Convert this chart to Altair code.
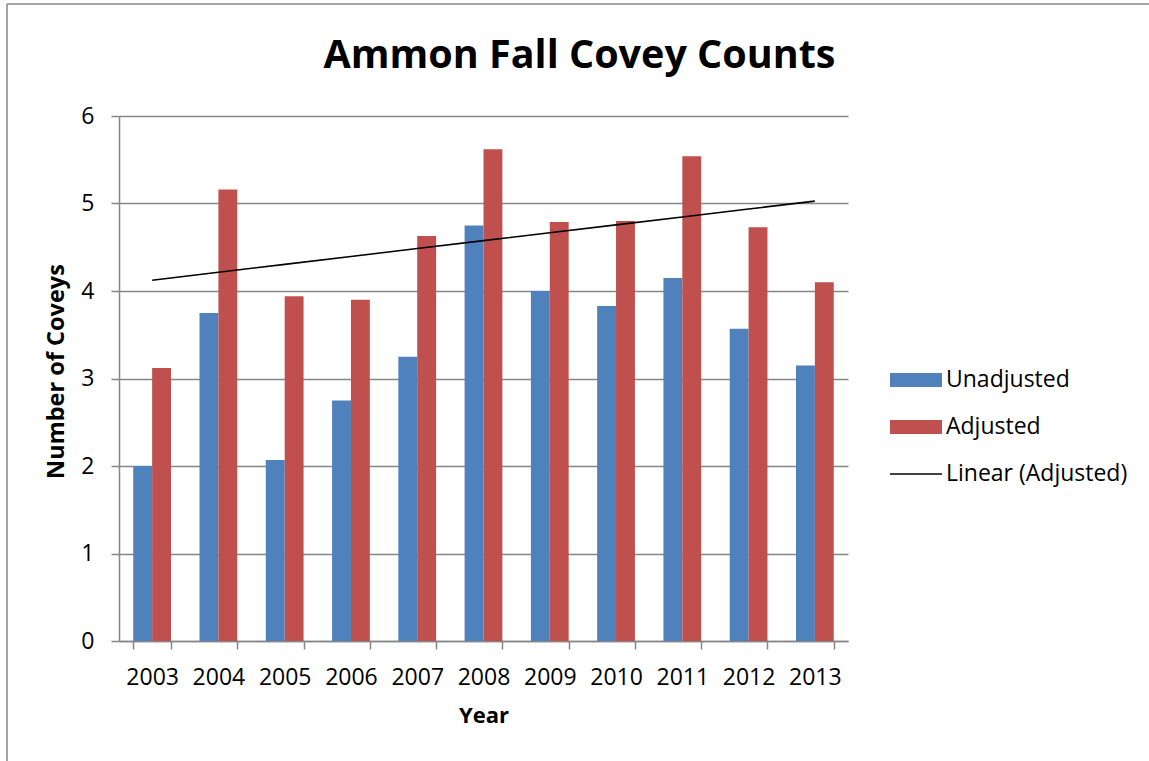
import altair as alt
import numpy as np
import pandas as pd

# Survey results by year
years = ["2003", "2004", "2005", "2006", "2007", "2008",
         "2009", "2010", "2011", "2012", "2013"]
unadjusted = [2.00, 3.75, 2.07, 2.75, 3.25, 4.75, 4.00, 3.83, 4.15, 3.57, 3.15]
adjusted = [3.12, 5.16, 3.94, 3.90, 4.63, 5.62, 4.79, 4.80, 5.54, 4.73, 4.10]

series_names = ["Unadjusted", "Adjusted", "Linear (Adjusted)"]
series_colors = ["#4F81BD", "#C0504D", "#000000"]
# legend glyphs: two wide swatches and a thin line
series_glyphs = ["M-1,-0.27H1V0.27H-1Z", "M-1,-0.27H1V0.27H-1Z", "M-1,-0.03H1V0.03H-1Z"]

FONT = "Open Sans"
GRID = "#868686"

bars = pd.DataFrame({
    "Year": years * 2,
    "Series": ["Unadjusted"] * len(years) + ["Adjusted"] * len(years),
    "Coveys": unadjusted + adjusted,
})

# least-squares trend of the adjusted counts
slope, intercept = np.polyfit(np.arange(len(years)), adjusted, 1)
trend = pd.DataFrame({
    "Year": years,
    "Series": "Linear (Adjusted)",
    "Coveys": intercept + slope * np.arange(len(years)),
})

color_scale = alt.Scale(domain=series_names, range=series_colors)
shape_scale = alt.Scale(domain=series_names, range=series_glyphs)
x_scale = alt.Scale(domain=years, paddingInner=0.43, paddingOuter=0.215)
y_scale = alt.Scale(domain=[0, 6], nice=False)

legend = alt.Legend(
    title=None, orient="none", legendX=771, legendY=238,
    symbolSize=2704, symbolOpacity=1, symbolStrokeWidth=0,
    labelFont=FONT, labelFontSize=23, labelColor="black", labelLimit=300,
    rowPadding=9, labelOffset=4,
)

bar_layer = alt.Chart(bars).mark_bar().encode(
    x=alt.X("Year:N", scale=x_scale, sort=years,
            axis=alt.Axis(title="Year", tickBand="extent")),
    xOffset=alt.XOffset("Series:N", sort=series_names[:2],
                        scale=alt.Scale(paddingInner=0, paddingOuter=0)),
    y=alt.Y("Coveys:Q", scale=y_scale,
            axis=alt.Axis(title="Number of Coveys", values=[0, 1, 2, 3, 4, 5, 6],
                          format="d", titleY=255)),
    color=alt.Color("Series:N", scale=color_scale, legend=legend),
)

trend_layer = alt.Chart(trend).mark_line(strokeWidth=1.6).encode(
    x=alt.X("Year:N", scale=x_scale, sort=years),
    y=alt.Y("Coveys:Q", scale=y_scale),
    color=alt.Color("Series:N", scale=color_scale, legend=legend),
)

key = pd.DataFrame({"Series": series_names})
key_layer = alt.Chart(key).mark_point(filled=True, opacity=0).encode(
    x=alt.value(0), y=alt.value(0),
    color=alt.Color("Series:N", scale=color_scale, legend=legend),
    shape=alt.Shape("Series:N", scale=shape_scale, legend=legend),
)

# chart-area border (left and top edges)
frame_data = pd.DataFrame({"edge": [0]})
frame_left = alt.Chart(frame_data).mark_rule(color=GRID, strokeWidth=1.5).encode(
    x=alt.value(-112), y=alt.value(-112), y2=alt.value(650))
frame_top = alt.Chart(frame_data).mark_rule(color=GRID, strokeWidth=1.5).encode(
    x=alt.value(-112), x2=alt.value(1040), y=alt.value(-112))

chart = alt.layer(bar_layer, trend_layer, key_layer, frame_left, frame_top).properties(
    width=729, height=525,
    title=alt.Title("Ammon Fall Covey Counts", font=FONT, fontSize=39.5,
                    fontWeight="bold", color="black", anchor="middle",
                    frame="group", dx=96, offset=-104, baseline="alphabetic"),
    autosize=alt.AutoSizeParams(type="none"),
    padding={"left": 119, "top": 116, "right": 301, "bottom": 120},
).configure_view(stroke=None).configure_axis(
    labelFont=FONT, labelFontSize=23, labelColor="black",
    titleFont=FONT, titleFontSize=22, titleFontWeight="bold", titleColor="black",
    domainColor=GRID, domainWidth=1.5, tickColor=GRID, tickWidth=1.5,
    gridColor=GRID, gridWidth=1.5, tickSize=8, labelPadding=17,
).configure_axisX(
    grid=False, labelAngle=0, titlePadding=16,
).configure_axisY(
    grid=True, titlePadding=12, labelPadding=17, titleFontSize=23.5,
)

chart.save("out.html", embed_options={"renderer": "svg", "actions": False})
